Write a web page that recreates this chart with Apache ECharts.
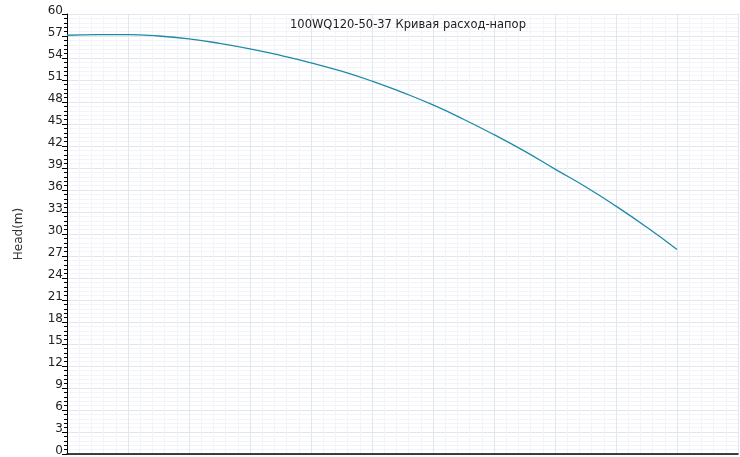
<!DOCTYPE html>
<html>
<head>
<meta charset="utf-8">
<script src="https://cdn.jsdelivr.net/npm/echarts@6/dist/echarts.min.js"></script>
<style>
html,body{margin:0;padding:0;background:#fff;}
#c{width:740px;height:457px;}
</style>
</head>
<body>
<div id="c"></div>
<script>
var titleText = '100WQ120-50-37 Кривая расход-напор';
var yName = 'Head(m)';
var flow = [0, 10, 20, 30, 40, 50, 60, 70, 80, 90, 100, 110, 120, 130, 140, 150, 160, 170, 180, 190, 200];
var head = [57.1, 57.2, 57.2, 57.0, 56.6, 56.0, 55.25, 54.35, 53.35, 52.2, 50.85, 49.3, 47.6, 45.65, 43.55, 41.3, 38.85, 36.45, 33.8, 30.95, 27.9];

var data = flow.map(function (q, i) { return [q, head[i]]; });
var chart = echarts.init(document.getElementById('c'));
chart.setOption({
  animation: false,
  textStyle: { fontFamily: 'DejaVu Sans' },
  title: {
    text: titleText,
    left: 403, top: 14, textAlign: 'center',
    textStyle: { fontSize: 11.5, fontWeight: 'normal', color: '#222', fontFamily: 'DejaVu Sans' }
  },
  grid: { left: 67, right: 2, top: 14, bottom: 3, containLabel: false },
  xAxis: {
    type: 'value', min: 0, max: 220, interval: 20,
    axisLine: { show: true, onZero: false, lineStyle: { color: '#000', width: 1.5 } },
    axisTick: { show: false },
    axisLabel: { show: false },
    splitLine: { show: true, lineStyle: { color: '#e1e6f0' } },
    minorTick: { show: false, splitNumber: 5 },
    minorSplitLine: { show: true, lineStyle: { color: '#f2f4f9' } }
  },
  yAxis: {
    type: 'value', min: 0, max: 60, interval: 3,
    name: yName, nameLocation: 'middle', nameGap: 42,
    nameTextStyle: { fontSize: 12, color: '#333', fontFamily: 'DejaVu Sans' },
    axisLine: { show: true, lineStyle: { color: '#000' } },
    axisTick: { show: true, length: 5, lineStyle: { color: '#000' } },
    minorTick: { show: true, splitNumber: 5, length: 3, lineStyle: { color: '#000' } },
    axisLabel: { fontSize: 12, color: '#222', margin: 4, verticalAlign: 'bottom', lineHeight: 6, fontFamily: 'DejaVu Sans' },
    splitLine: { show: true, lineStyle: { color: '#e1e6f0' } },
    minorSplitLine: { show: true, lineStyle: { color: '#f2f4f9' } }
  },
  series: [{
    type: 'line', data: data, smooth: true, showSymbol: false,
    lineStyle: { color: '#1f8aa6', width: 1.3 }
  }]
});
</script>
</body>
</html>
